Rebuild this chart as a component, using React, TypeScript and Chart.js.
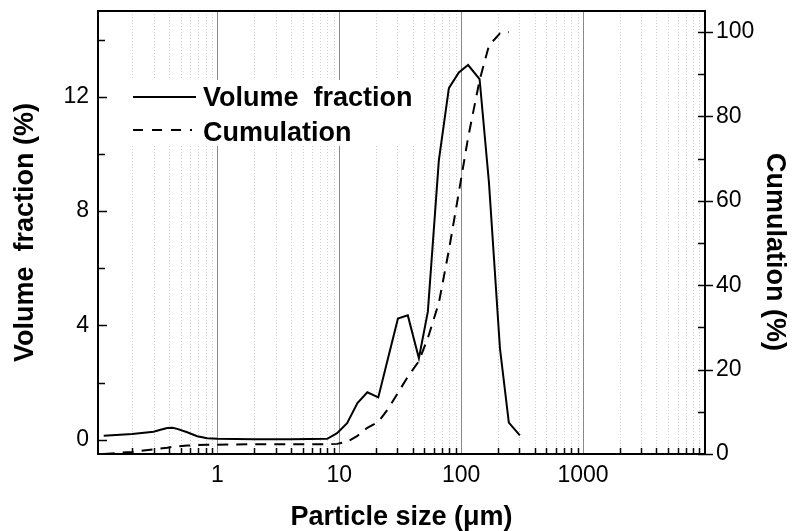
import React, { useEffect, useRef } from 'react';
import { Chart, registerables } from 'chart.js';

Chart.register(...registerables);

// Particle size classes (µm)
const particleSize = [
  0.117, 0.2, 0.3, 0.342, 0.388, 0.43, 0.469, 0.566, 0.684, 0.826, 1.0, 2, 4,
  7.97, 9.6, 11.6, 14.1, 17.0, 20.9, 25.3, 30.3, 36.5, 45.0, 53.3, 65.6, 79.3,
  95.7, 114, 141.6, 169, 208, 246, 303,
];
// Volume fraction (%) – left axis
const volumeFraction = [
  0.14, 0.2, 0.28, 0.35, 0.41, 0.42, 0.38, 0.26, 0.12, 0.05, 0.03, 0.02, 0.02,
  0.03, 0.23, 0.58, 1.28, 1.66, 1.48, 2.9, 4.24, 4.35, 2.85, 4.48, 9.77, 12.3,
  12.85, 13.11, 12.62, 9.0, 3.2, 0.6, 0.15,
];
// Cumulation (%) – right axis
const cumulation: (number | null)[] = [
  0, 0.5, 1.1, 1.3, 1.5, 1.7, 1.8, 2.0, 2.1, 2.2, 2.2, 2.3, 2.3,
  2.3, 2.4, 2.9, 4.3, 6.2, 7.6, 10.8, 14.5, 18.3, 22, 27.5, 35.8, 48.3,
  62, 75, 88.6, 96.8, 99.7, 100, null,
];

const xMajorTicks = [1, 10, 100, 1000];
const yLeftTicks = [0, 4, 8, 12];
const yLeftMinor = [2, 6, 10, 14];
const yRightTicks = [0, 20, 40, 60, 80, 100];
const yRightMinor = [10, 30, 50, 70, 90];

const legendLabels = ['Volume  fraction', 'Cumulation'];
const xTitle = 'Particle size (\u03bcm)';
const yTitle = 'Volume  fraction (%)';
const y1Title = 'Cumulation (%)';

const FAMILY = '"Liberation Sans", Arial, Helvetica, sans-serif';

const decorPlugin = {
  id: 'decor',
  beforeDatasetsDraw(chart: any) {
    const { ctx, chartArea, scales } = chart;
    const { top, bottom } = chartArea;
    const x = scales.x;
    ctx.save();
    ctx.lineWidth = 1;
    // minor dotted grid
    ctx.strokeStyle = '#cfcfcf';
    ctx.setLineDash([1, 2]);
    for (let d = 0.1; d < 10000; d *= 10) {
      for (let k = 2; k <= 9; k++) {
        const v = d * k;
        if (v < x.min || v > x.max) continue;
        const px = Math.round(x.getPixelForValue(v)) + 0.5;
        ctx.beginPath();
        ctx.moveTo(px, top);
        ctx.lineTo(px, bottom);
        ctx.stroke();
      }
    }
    // major grid
    ctx.setLineDash([]);
    ctx.strokeStyle = '#8a8a8a';
    for (const v of xMajorTicks) {
      const px = Math.round(x.getPixelForValue(v)) + 0.5;
      ctx.beginPath();
      ctx.moveTo(px, top);
      ctx.lineTo(px, bottom);
      ctx.stroke();
    }
    ctx.restore();
  },
  afterDatasetsDraw(chart: any) {
    const { ctx, chartArea, scales } = chart;
    const { left, right, top, bottom } = chartArea;
    const x = scales.x;
    const y = scales.y;
    const y1 = scales.y1;
    ctx.save();

    // legend
    ctx.fillStyle = '#fff';
    ctx.fillRect(128, 80, 295, 66);
    ctx.strokeStyle = '#000';
    ctx.lineWidth = 2;
    ctx.setLineDash([]);
    ctx.beginPath();
    ctx.moveTo(133, 97);
    ctx.lineTo(196, 97);
    ctx.stroke();
    ctx.setLineDash([10, 9]);
    ctx.beginPath();
    ctx.moveTo(133, 130);
    ctx.lineTo(192, 130);
    ctx.stroke();
    ctx.setLineDash([]);
    ctx.fillStyle = '#000';
    ctx.font = `bold 27px ${FAMILY}`;
    ctx.textAlign = 'left';
    ctx.textBaseline = 'alphabetic';
    ctx.fillText(legendLabels[0], 203, 106);
    ctx.fillText(legendLabels[1], 203, 141);

    // tick marks
    ctx.strokeStyle = '#000';
    ctx.lineWidth = 1.5;
    const seg = (x1: number, y1_: number, x2: number, y2: number) => {
      ctx.beginPath();
      ctx.moveTo(x1, y1_);
      ctx.lineTo(x2, y2);
      ctx.stroke();
    };
    for (let d = 0.1; d < 10000; d *= 10) {
      for (let k = 2; k <= 9; k++) {
        const v = d * k;
        if (v < x.min || v > x.max) continue;
        const px = Math.round(x.getPixelForValue(v)) + 0.5;
        seg(px, bottom, px, bottom - 6);
      }
    }
    for (const v of yLeftTicks) {
      const py = Math.round(y.getPixelForValue(v)) + 0.5;
      seg(left, py, left + 9, py);
    }
    for (const v of yLeftMinor) {
      const py = Math.round(y.getPixelForValue(v)) + 0.5;
      seg(left, py, left + 7, py);
    }
    for (const v of yRightTicks) {
      const py = Math.round(y1.getPixelForValue(v)) + 0.5;
      seg(right - 7, py, right + 8, py);
    }
    for (const v of yRightMinor) {
      const py = Math.round(y1.getPixelForValue(v)) + 0.5;
      seg(right - 7, py, right, py);
    }

    // frame
    ctx.lineWidth = 2;
    ctx.strokeStyle = '#000';
    ctx.strokeRect(left, top, right - left, bottom - top);

    // titles
    ctx.fillStyle = '#000';
    ctx.font = `bold 27px ${FAMILY}`;
    ctx.textAlign = 'center';
    ctx.textBaseline = 'alphabetic';
    ctx.fillText(xTitle, (left + right) / 2, 525);

    ctx.save();
    ctx.translate(33, (top + bottom) / 2);
    ctx.rotate(-Math.PI / 2);
    ctx.fillText(yTitle, 0, 0);
    ctx.restore();

    ctx.save();
    ctx.translate(767, 252);
    ctx.rotate(Math.PI / 2);
    ctx.fillText(y1Title, 0, 0);
    ctx.restore();

    ctx.restore();
  },
};

export default function App() {
  const ref = useRef<HTMLCanvasElement>(null);
  useEffect(() => {
    const canvas = ref.current;
    if (!canvas) return;
    const tickFont = { family: FAMILY, size: 23 };
    const chart = new Chart(canvas, {
      type: 'line',
      data: {
        datasets: [
          {
            label: legendLabels[0],
            data: particleSize.map((s, i) => ({ x: s, y: volumeFraction[i] })),
            yAxisID: 'y',
            borderColor: '#000',
            borderWidth: 2,
            pointRadius: 0,
            tension: 0,
            fill: false,
          },
          {
            label: legendLabels[1],
            data: particleSize
              .map((s, i) => ({ x: s, y: cumulation[i] }))
              .filter((p) => p.y !== null) as any,
            yAxisID: 'y1',
            borderColor: '#000',
            borderWidth: 2,
            borderDash: [11, 8],
            pointRadius: 0,
            tension: 0,
            fill: false,
          },
        ],
      },
      options: {
        responsive: false,
        animation: false,
        devicePixelRatio: 1,
        layout: { padding: { top: 11, left: 0, right: 0, bottom: 0 } },
        plugins: { legend: { display: false }, tooltip: { enabled: false } },
        scales: {
          x: {
            type: 'logarithmic',
            position: 'bottom',
            min: 0.105,
            max: 10000,
            afterBuildTicks: (s: any) => {
              s.ticks = xMajorTicks.map((v) => ({ value: v }));
            },
            afterFit: (s: any) => {
              s.height = 77;
              s.paddingLeft = 0;
              s.paddingRight = 0;
            },
            ticks: {
              autoSkip: false,
              maxRotation: 0,
              padding: 8,
              color: '#000',
              font: tickFont,
              callback: (v: any) => String(v),
            },
            grid: { display: false, drawTicks: false },
            border: { display: false },
          },
          y: {
            type: 'linear',
            position: 'left',
            min: -0.5,
            max: 15,
            afterBuildTicks: (s: any) => {
              s.ticks = yLeftTicks.map((v) => ({ value: v }));
            },
            afterFit: (s: any) => {
              s.width = 98;
              s.paddingTop = 0;
              s.paddingBottom = 0;
            },
            ticks: {
              padding: 9,
              color: '#000',
              font: tickFont,
              callback: (v: any) => String(v),
            },
            grid: { display: false, drawTicks: false },
            border: { display: false },
          },
          y1: {
            type: 'linear',
            position: 'right',
            min: 0,
            max: 105,
            afterBuildTicks: (s: any) => {
              s.ticks = yRightTicks.map((v) => ({ value: v }));
            },
            afterFit: (s: any) => {
              s.width = 87;
              s.paddingTop = 0;
              s.paddingBottom = 0;
            },
            ticks: {
              padding: 11,
              color: '#000',
              font: tickFont,
              callback: (v: any) => String(v),
            },
            grid: { display: false, drawTicks: false },
            border: { display: false },
          },
        },
      },
      plugins: [decorPlugin],
    } as any);
    return () => chart.destroy();
  }, []);

  return (
    <div
      style={{
        position: 'fixed',
        left: 0,
        top: 0,
        width: 792,
        height: 531,
        background: '#fff',
      }}
    >
      <canvas
        ref={ref}
        width={792}
        height={531}
        style={{ width: 792, height: 531, display: 'block' }}
      />
    </div>
  );
}
